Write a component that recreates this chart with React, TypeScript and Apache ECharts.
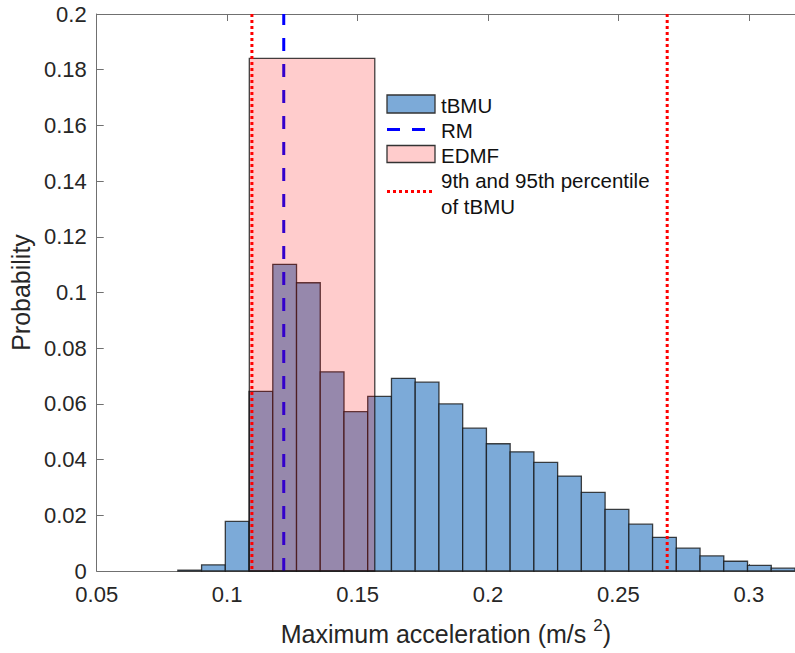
import React, { useEffect, useRef } from "react";
import * as echarts from "echarts";

// Histogram bins (probability per bin) for the tBMU ensemble
const binStart = 0.0811;
const binWidth = 0.0091;
const tbmuProb = [
  0.0003, 0.0022, 0.0178, 0.0645, 0.1101, 0.1035, 0.0715, 0.0572, 0.0627,
  0.0692, 0.0678, 0.06, 0.0513, 0.0457, 0.0428, 0.039, 0.0341, 0.0282,
  0.0221, 0.0168, 0.0121, 0.0082, 0.0054, 0.0035, 0.002, 0.001,
];

// EDMF: single candidate range
const edmfEdges = [0.1085, 0.1566];
const edmfProb = 0.1841;

// Reference-model value and tBMU percentiles
const rmValue = 0.1217;
const percentiles = [0.1095, 0.2687];

const xTicks = [0.05, 0.1, 0.15, 0.2, 0.25, 0.3];
const xRange = [0.05, 0.3177];
const yRange = [0, 0.2];

const FONT = "'Liberation Sans', Helvetica, Arial, sans-serif";
const BLUE_FILL = "#7caad8";
const EDGE = "rgba(20,20,20,0.8)";
const PINK_FILL = "rgba(255,0,0,0.2)";
const AXIS_COLOR = "#707070";
const TEXT_COLOR = "#262626";
const TICK_FONT = 22;
const TITLE_FONT = 25;

const rectItem = (fill: string) => (params: any, api: any) => {
  const x0 = api.value(0);
  const x1 = api.value(1);
  const y = api.value(2);
  const p0 = api.coord([x0, y]);
  const p1 = api.coord([x1, 0]);
  return {
    type: "rect",
    shape: { x: p0[0], y: p0[1], width: p1[0] - p0[0], height: p1[1] - p0[1] },
    style: { fill, stroke: EDGE, lineWidth: 1.3 },
  };
};

export default function App() {
  const ref = useRef<HTMLDivElement>(null);

  useEffect(() => {
    if (!ref.current) return;
    const chart = echarts.init(ref.current, undefined, { renderer: "svg" });

    const tbmuData = tbmuProb.map((p, i) => [
      binStart + i * binWidth,
      binStart + (i + 1) * binWidth,
      p,
    ]);

    const legendX = 387;
    const legendTextX = 441;
    const legendFont = `20.5px ${FONT}`;

    const option: any = {
      animation: false,
      backgroundColor: "#ffffff",
      textStyle: { fontFamily: FONT },
      grid: { left: 95, top: 14, right: 0, bottom: 82, containLabel: false },
      xAxis: [
        {
          type: "value",
          min: xRange[0],
          max: xRange[1],
          interval: 0.05,
          position: "bottom",
          name: "Maximum acceleration (m/s {sup|2})",
          nameLocation: "middle",
          nameGap: 46,
          nameTextStyle: {
            fontSize: TITLE_FONT,
            color: TEXT_COLOR,
            fontFamily: FONT,
            rich: {
              sup: {
                fontSize: 17,
                verticalAlign: "top",
                padding: [0, 0, 16, 0],
                color: TEXT_COLOR,
                fontFamily: FONT,
              },
            },
          },
          axisLine: { show: true, lineStyle: { color: AXIS_COLOR, width: 1 } },
          axisTick: { show: true, inside: true, length: 7, customValues: xTicks, lineStyle: { color: AXIS_COLOR } },
          axisLabel: {
            customValues: xTicks,
            fontSize: TICK_FONT,
            lineHeight: 18,
            color: TEXT_COLOR,
            fontFamily: FONT,
            margin: 14,
            formatter: (v: number) => String(+v.toFixed(2)),
          },
          splitLine: { show: false },
        },
        {
          type: "value",
          min: xRange[0],
          max: xRange[1],
          interval: 0.05,
          position: "top",
          axisLine: { show: true, onZero: false, lineStyle: { color: AXIS_COLOR, width: 1 } },
          axisTick: { show: true, inside: true, length: 7, customValues: xTicks, lineStyle: { color: AXIS_COLOR } },
          axisLabel: { show: false },
          splitLine: { show: false },
        },
      ],
      yAxis: {
        type: "value",
        min: yRange[0],
        max: yRange[1],
        interval: 0.02,
        name: "Probability",
        nameLocation: "middle",
        nameGap: 60,
        nameTextStyle: { fontSize: TITLE_FONT, color: TEXT_COLOR, fontFamily: FONT },
        axisLine: { show: true, lineStyle: { color: AXIS_COLOR, width: 1 } },
        axisTick: { show: true, inside: true, length: 7, lineStyle: { color: AXIS_COLOR } },
        axisLabel: {
          fontSize: TICK_FONT,
          lineHeight: 18,
          color: TEXT_COLOR,
          fontFamily: FONT,
          margin: 10,
          formatter: (v: number) => String(+v.toFixed(2)),
        },
        splitLine: { show: false },
      },
      series: [
        {
          name: "tBMU",
          type: "custom",
          z: 2,
          renderItem: rectItem(BLUE_FILL),
          encode: { x: [0, 1], y: 2 },
          data: tbmuData,
        },
        {
          name: "RM",
          type: "line",
          z: 3,
          symbol: "none",
          data: [
            [rmValue, yRange[0]],
            [rmValue, yRange[1]],
          ],
          lineStyle: { color: "#0000ff", width: 3, type: [13, 13] },
        },
        {
          name: "EDMF",
          type: "custom",
          z: 4,
          renderItem: rectItem(PINK_FILL),
          encode: { x: [0, 1], y: 2 },
          data: [[edmfEdges[0], edmfEdges[1], edmfProb]],
        },
        ...percentiles.map((p) => ({
          name: "9th and 95th percentile of tBMU",
          type: "line",
          z: 5,
          symbol: "none",
          data: [
            [p, yRange[1]],
            [p, yRange[0]],
          ],
          lineStyle: { color: "#ff0000", width: 3, type: [3, 3] },
        })),
      ],
      graphic: [
        {
          type: "rect",
          shape: { x: legendX, y: 95, width: 48, height: 18 },
          style: { fill: BLUE_FILL, stroke: "#333", lineWidth: 1.3 },
          z: 10,
        },
        {
          type: "line",
          shape: { x1: legendX, y1: 129.5, x2: legendX + 48, y2: 129.5 },
          style: { stroke: "#0000ff", lineWidth: 3, lineDash: [13, 12] },
          z: 10,
        },
        {
          type: "rect",
          shape: { x: legendX, y: 145.5, width: 48, height: 17 },
          style: { fill: "#ffcccc", stroke: "#333", lineWidth: 1.3 },
          z: 10,
        },
        {
          type: "line",
          shape: { x1: legendX, y1: 191.5, x2: legendX + 48, y2: 191.5 },
          style: { stroke: "#ff0000", lineWidth: 3, lineDash: [3, 3] },
          z: 10,
        },
        ...[
          ["tBMU", 105],
          ["RM", 130.5],
          ["EDMF", 155.5],
          ["9th and 95th percentile", 180],
          ["of tBMU", 206],
        ].map(([t, y]) => ({
          type: "text",
          x: legendTextX,
          y: y as number,
          z: 10,
          style: {
            text: t as string,
            font: legendFont,
            fill: "#111",
            textAlign: "left",
            textVerticalAlign: "middle",
          },
        })),
      ],
    };

    chart.setOption(option);
    return () => chart.dispose();
  }, []);

  return (
    <div
      ref={ref}
      style={{ position: "fixed", left: 0, top: 0, width: 795, height: 653, background: "#fff" }}
    />
  );
}
